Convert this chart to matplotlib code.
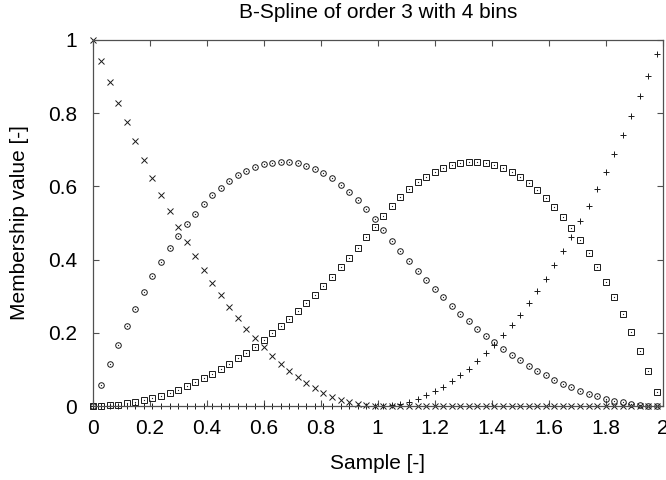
import matplotlib
matplotlib.use('Agg')
import matplotlib.pyplot as plt

plt.rcParams['font.family'] = ['Liberation Sans', 'DejaVu Sans']

# sample positions
sample = [0.00, 0.03, 0.06, 0.09, 0.12, 0.15, 0.18, 0.21, 0.24, 0.27,
          0.30, 0.33, 0.36, 0.39, 0.42, 0.45, 0.48, 0.51, 0.54, 0.57,
          0.60, 0.63, 0.66, 0.69, 0.72, 0.75, 0.78, 0.81, 0.84, 0.87,
          0.90, 0.93, 0.96, 0.99, 1.02, 1.05, 1.08, 1.11, 1.14, 1.17,
          1.20, 1.23, 1.26, 1.29, 1.32, 1.35, 1.38, 1.41, 1.44, 1.47,
          1.50, 1.53, 1.56, 1.59, 1.62, 1.65, 1.68, 1.71, 1.74, 1.77,
          1.80, 1.83, 1.86, 1.89, 1.92, 1.95, 1.98]

# membership values, one list per bin
bin1 = [1.0, 0.9409, 0.8836, 0.8281, 0.7744, 0.7225, 0.6724, 0.6241, 0.5776, 0.5329,
        0.49, 0.4489, 0.4096, 0.3721, 0.3364, 0.3025, 0.2704, 0.2401, 0.2116, 0.1849,
        0.16, 0.1369, 0.1156, 0.0961, 0.0784, 0.0625, 0.0484, 0.0361, 0.0256, 0.0169,
        0.01, 0.0049, 0.0016, 0.0001, 0.0, 0.0, 0.0, 0.0, 0.0, 0.0,
        0.0, 0.0, 0.0, 0.0, 0.0, 0.0, 0.0, 0.0, 0.0, 0.0,
        0.0, 0.0, 0.0, 0.0, 0.0, 0.0, 0.0, 0.0, 0.0, 0.0,
        0.0, 0.0, 0.0, 0.0, 0.0, 0.0, 0.0]
bin2 = [0.0, 0.0587, 0.1146, 0.1679, 0.2184, 0.2663, 0.3114, 0.3539, 0.3936, 0.4307,
        0.465, 0.4967, 0.5256, 0.5519, 0.5754, 0.5963, 0.6144, 0.6299, 0.6426, 0.6527,
        0.66, 0.6647, 0.6666, 0.6659, 0.6624, 0.6563, 0.6474, 0.6359, 0.6216, 0.6047,
        0.585, 0.5627, 0.5376, 0.5099, 0.4802, 0.4513, 0.4232, 0.3961, 0.3698, 0.3445,
        0.32, 0.2965, 0.2738, 0.2521, 0.2312, 0.2113, 0.1922, 0.1741, 0.1568, 0.1405,
        0.125, 0.1105, 0.0968, 0.0841, 0.0722, 0.0613, 0.0512, 0.0421, 0.0338, 0.0265,
        0.02, 0.0145, 0.0098, 0.0061, 0.0032, 0.0013, 0.0002]
bin3 = [0.0, 0.0005, 0.0018, 0.0041, 0.0072, 0.0113, 0.0162, 0.0221, 0.0288, 0.0365,
        0.045, 0.0545, 0.0648, 0.0761, 0.0882, 0.1013, 0.1152, 0.1301, 0.1458, 0.1625,
        0.18, 0.1985, 0.2178, 0.2381, 0.2592, 0.2813, 0.3042, 0.3281, 0.3528, 0.3785,
        0.405, 0.4325, 0.4608, 0.4901, 0.5194, 0.5463, 0.5704, 0.5919, 0.6106, 0.6267,
        0.64, 0.6507, 0.6586, 0.6639, 0.6664, 0.6663, 0.6634, 0.6579, 0.6496, 0.6387,
        0.625, 0.6087, 0.5896, 0.5679, 0.5434, 0.5163, 0.4864, 0.4539, 0.4186, 0.3807,
        0.34, 0.2967, 0.2506, 0.2019, 0.1504, 0.0963, 0.0394]
bin4 = [0.0, 0.0, 0.0, 0.0, 0.0, 0.0, 0.0, 0.0, 0.0, 0.0,
        0.0, 0.0, 0.0, 0.0, 0.0, 0.0, 0.0, 0.0, 0.0, 0.0,
        0.0, 0.0, 0.0, 0.0, 0.0, 0.0, 0.0, 0.0, 0.0, 0.0,
        0.0, 0.0, 0.0, 0.0, 0.0004, 0.0025, 0.0064, 0.0121, 0.0196, 0.0289,
        0.04, 0.0529, 0.0676, 0.0841, 0.1024, 0.1225, 0.1444, 0.1681, 0.1936, 0.2209,
        0.25, 0.2809, 0.3136, 0.3481, 0.3844, 0.4225, 0.4624, 0.5041, 0.5476, 0.5929,
        0.64, 0.6889, 0.7396, 0.7921, 0.8464, 0.9025, 0.9604]

ticks = [0, 0.2, 0.4, 0.6, 0.8, 1, 1.2, 1.4, 1.6, 1.8, 2]
tick_labels = ['0', '0.2', '0.4', '0.6', '0.8', '1', '1.2', '1.4', '1.6', '1.8', '2']
yticks = [0, 0.2, 0.4, 0.6, 0.8, 1]
ytick_labels = ['0', '0.2', '0.4', '0.6', '0.8', '1']

fig, ax = plt.subplots(figsize=(6.66, 4.8), dpi=100)
fig.subplots_adjust(left=0.139, right=0.995, bottom=0.154, top=0.917)

ink = '#1a1a1a'
ax.plot(sample, bin1, ls='none', marker='x', ms=4.2, mew=0.7, color=ink, clip_on=False)
ax.plot(sample, bin2, ls='none', marker='o', ms=4.0, mew=0.7, mfc='none', mec=ink, clip_on=False)
ax.plot(sample, bin3, ls='none', marker='s', ms=4.0, mew=0.7, mfc='none', mec=ink, clip_on=False)
ax.plot(sample, bin4, ls='none', marker='+', ms=5.0, mew=0.7, color=ink, clip_on=False)
# centre dots of the open markers
ax.plot(sample, bin2, ls='none', marker='o', ms=0.9, mew=0, color=ink, clip_on=False)
ax.plot(sample, bin3, ls='none', marker='o', ms=0.9, mew=0, color=ink, clip_on=False)

ax.set_xlim(0, 2)
ax.set_ylim(0, 1)
ax.set_xticks(ticks)
ax.set_xticklabels(tick_labels)
ax.set_yticks(yticks)
ax.set_yticklabels(ytick_labels)
ax.tick_params(direction='in', top=True, right=True, length=4, width=0.8,
               color='#505050', labelsize=15)
ax.tick_params(axis='x', pad=9)
ax.tick_params(axis='y', pad=11)
for s in ax.spines.values():
    s.set_color('#505050')
    s.set_linewidth(0.9)

ax.set_xlabel('Sample [-]', fontsize=15)
ax.xaxis.set_label_coords(0.5, -0.156)
ax.xaxis.label.set_va('center')
ax.set_ylabel('Membership value [-]', fontsize=15)
ax.yaxis.set_label_coords(-0.128, 0.5)
ax.yaxis.label.set_va('center')

fig.text(0.568, 1 - 13 / 480, 'B-Spline of order 3 with 4 bins', fontsize=15,
         ha='center', va='center')

fig.savefig('out.png', dpi=100)
